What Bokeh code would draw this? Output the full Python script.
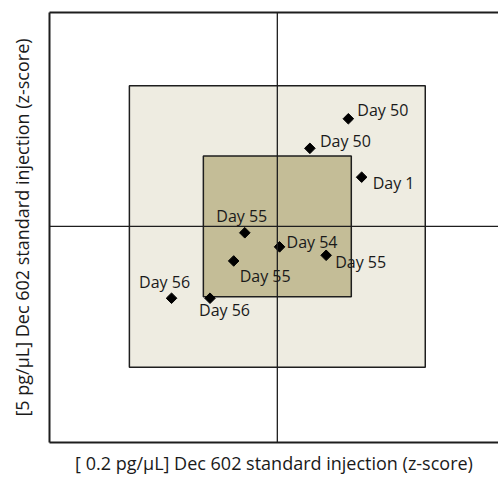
import math
from bokeh.plotting import figure
from bokeh.models import ColumnDataSource, Range1d, Span, LabelSet, LinearAxis
from bokeh.core.properties import value
from bokeh.embed import file_html
from bokeh.resources import INLINE

# Data (z-scores)
labels = ["Day 50", "Day 50", "Day 1", "Day 55", "Day 54", "Day 55", "Day 55", "Day 56", "Day 56"]
x_z = [0.96, 0.44, 1.14, -0.44, 0.03, 0.66, -0.59, -1.43, -0.91]
y_z = [1.53, 1.11, 0.70, -0.09, -0.29, -0.41, -0.49, -1.02, -1.02]

# Control limits (z-score)
inner_limit = 1
outer_limit = 2

# label placement (screen px, styling only)
lab_dx = [9, 10, 11, -3, 7, 9, 6, -7, -11]
lab_dy = [9, 7, -6, 17, 5, -7, -15, 16, -12]
lab_align = ["left", "left", "left", "center", "left", "left", "left", "center", "left"]

FONT = "Open Sans"
LINE = "#1e1e1e"

p = figure(width=498, height=477, output_backend="svg", toolbar_location=None,
           x_range=Range1d(-3.08, 2.99), y_range=Range1d(-3.07, 3.04),
           min_border_left=49, min_border_right=0, min_border_top=12, min_border_bottom=30)
p.grid.visible = False
p.outline_line_color = None
p.background_fill_color = "white"

# zones
p.quad(left=[-outer_limit], right=[outer_limit], bottom=[-outer_limit], top=[outer_limit],
       fill_color="#EEECE1", line_color=LINE, line_width=1.5)
p.quad(left=[-inner_limit], right=[inner_limit], bottom=[-inner_limit], top=[inner_limit],
       fill_color="#C4BD97", line_color=LINE, line_width=1.5)

p.add_layout(Span(location=0, dimension="height", line_color=LINE, line_width=1.3))
p.add_layout(Span(location=0, dimension="width", line_color=LINE, line_width=1.3))

src = ColumnDataSource(dict(x=x_z, y=y_z, label=labels, dx=lab_dx, dy=lab_dy, align=lab_align))
p.scatter("x", "y", source=src, marker="square", angle=math.pi / 4, size=7.5,
          fill_color="black", line_color="black")

p.add_layout(LabelSet(x="x", y="y", text="label", source=src, x_offset="dx", y_offset="dy",
                      text_align="align", text_baseline="middle",
                      text_font=value(FONT), text_font_size=value("16px"), text_color="#1a1a1a"))

for ax in (p.xaxis[0], p.yaxis[0]):
    ax.major_tick_line_color = None
    ax.minor_tick_line_color = None
    ax.major_tick_out = 0
    ax.major_tick_in = 0
    ax.minor_tick_out = 0
    ax.major_label_standoff = 0
    ax.major_label_text_font_size = "0px"
    ax.major_label_text_color = None
    ax.axis_line_width = 2
    ax.axis_line_color = LINE
    ax.axis_label_text_font = FONT
    ax.axis_label_text_font_size = "18px"
    ax.axis_label_text_font_style = "normal"
    ax.axis_label_text_color = "#1a1a1a"
p.xaxis[0].axis_label_standoff = 8
p.yaxis[0].axis_label_standoff = 16

p.xaxis.axis_label = "[ 0.2 pg/\u00b5L] Dec 602 standard injection (z-score)"
p.yaxis.axis_label = "[5 pg/\u00b5L] Dec 602 standard injection (z-score)"

top = LinearAxis(major_tick_line_color=None, minor_tick_line_color=None,
                 major_tick_out=0, major_tick_in=0, minor_tick_out=0, major_label_standoff=0,
                 major_label_text_font_size="0px", major_label_text_color=None,
                 axis_line_width=2, axis_line_color=LINE)
p.add_layout(top, "above")

open("out.html", "w").write(file_html(p, INLINE))
